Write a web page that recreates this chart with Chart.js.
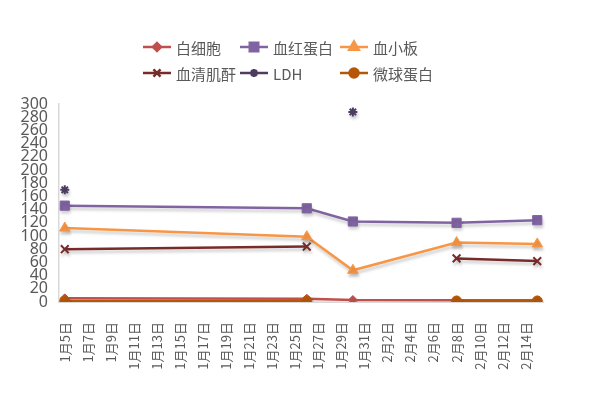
<!DOCTYPE html>
<html>
<head>
<meta charset="utf-8">
<script src="https://cdn.jsdelivr.net/npm/chart.js@4.4.0/dist/chart.umd.min.js"></script>
<style>
  body { margin: 0; background: #fff; }
  #wrap { width: 589px; height: 393px; }
</style>
</head>
<body>
<div id="wrap"><canvas id="lineChart"></canvas></div>
<script>
// every day on the axis, 1月5日 .. 2月15日
const allDays = [];
for (let d = 5; d <= 31; d++) allDays.push('1月' + d + '日');
for (let d = 1; d <= 15; d++) allDays.push('2月' + d + '日');

// dates that have measurements
const sampleDates = ['1月5日', '1月26日', '1月30日', '2月8日', '2月15日'];

const names = ['白细胞', '血红蛋白', '血小板', '血清肌酐', 'LDH', '微球蛋白'];
const wbc = [5.5, 5, 3, 2.5, 2.5];
const hgb = [146, 142, 122, 120, 124];
const plt = [112, 99, 48, 90, 88];
const scr = [80, 84, null, 66, 62];
const ldh = [170, null, 288, null, null];
const b2m = [1.5, 1.5, null, 1.5, 1.5];

const colors = ['#C0504D', '#8064A2', '#F79646', '#772C2A', '#4D3B62', '#B65708'];
const markers = ['rectRot', 'rect', 'triangle', 'crossRot', 'star', 'circle'];
const radii = [4.5, 6.5, 6, 5.5, 4.5, 5];

const series = [wbc, hgb, plt, scr, ldh, b2m];

const thin = m => m === 'crossRot' || m === 'star';

const datasets = series.map((vals, i) => ({
  label: names[i],
  data: sampleDates.map((d, j) => ({x: d, y: vals[j]})),
  borderColor: colors[i],
  backgroundColor: colors[i],
  borderWidth: 2.5,
  pointStyle: markers[i],
  pointRadius: radii[i],
  pointBorderWidth: thin(markers[i]) ? 2 : 1,
  pointHoverRadius: radii[i],
  spanGaps: false,
  tension: 0,
  order: 6 - i   // later series on top, like the original
}));

// soft shadow under the lines
const shadow = {
  id: 'shadow',
  beforeDatasetsDraw(chart) {
    const c = chart.ctx;
    c.save();
    c.shadowColor = 'rgba(0,0,0,0.2)';
    c.shadowOffsetX = 1;
    c.shadowOffsetY = 3;
    c.shadowBlur = 3;
  },
  afterDatasetsDraw(chart) { chart.ctx.restore(); }
};

// legend in a 3 x 2 grid, line + marker
const legendGrid = {
  id: 'legendGrid',
  afterDraw(chart) {
    const c = chart.ctx;
    const colX = [143, 240, 340];
    const rowY = [47, 73];
    c.save();
    names.forEach((n, i) => {
      const x = colX[i % 3], y = rowY[Math.floor(i / 3)];
      c.strokeStyle = colors[i];
      c.lineWidth = 2.5;
      c.beginPath();
      c.moveTo(x, y);
      c.lineTo(x + 28, y);
      c.stroke();
      c.fillStyle = colors[i];
      Chart.helpers.drawPoint(c, {
        pointStyle: markers[i],
        radius: radii[i] - 0.5,
        rotation: 0,
        borderWidth: thin(markers[i]) ? 2 : 1
      }, x + 14, y);
      c.fillStyle = '#595959';
      c.font = '15px "Noto Sans CJK SC", "Noto Sans", sans-serif';
      c.textBaseline = 'middle';
      c.textAlign = 'left';
      c.fillText(n, x + 33, y + 1);
    });
    c.restore();
  }
};

const CHART = document.getElementById('lineChart');
let lineChart = new Chart(CHART, {
  type: 'line',
  data: {labels: allDays, datasets},
  options: {
    responsive: true,
    maintainAspectRatio: false,
    animation: false,
    layout: {padding: {top: 104, right: 46, left: 0, bottom: 0}},
    plugins: {legend: {display: false}, tooltip: {enabled: false}},
    scales: {
      x: {
        type: 'category',
        offset: true,
        grid: {display: false},
        border: {display: true, color: '#d9d9d9', width: 1},
        ticks: {
          autoSkip: false,
          maxRotation: 90,
          minRotation: 90,
          padding: 12,
          color: '#595959',
          font: {size: 13, family: '"Noto Sans CJK SC", sans-serif'},
          callback: (v, i) => i % 2 === 0 ? allDays[i] : ''
        },
        afterFit: s => { s.height = 91; }
      },
      y: {
        min: 0,
        max: 300,
        grid: {display: false},
        border: {display: true, color: '#d9d9d9', width: 1.5},
        ticks: {
          stepSize: 20,
          autoSkip: false,
          padding: 3,
          color: '#595959',
          font: {size: 16, family: '"Noto Sans", sans-serif'}
        },
        afterFit: s => { s.width = 59; }
      }
    }
  },
  plugins: [shadow, legendGrid]
});
</script>
</body>
</html>
